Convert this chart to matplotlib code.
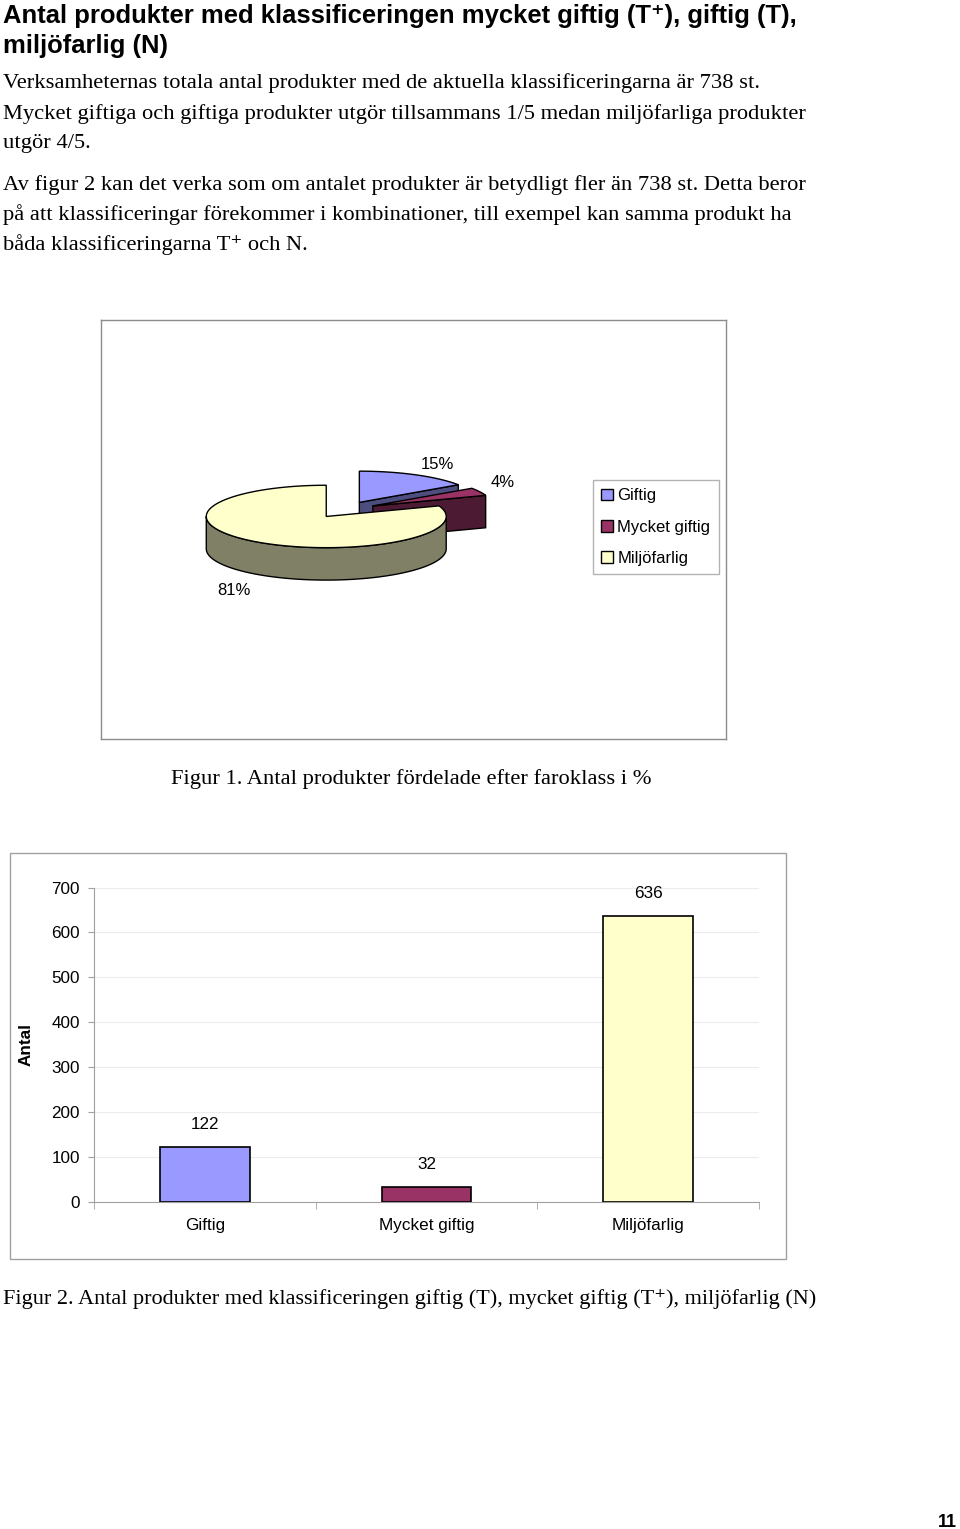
import matplotlib
matplotlib.use('Agg')
import matplotlib.pyplot as plt
import matplotlib.colors as mcolors
import numpy as np
from matplotlib.patches import Polygon, Patch, Rectangle

# data
categories = ['Giftig', 'Mycket giftig', 'Miljöfarlig']
counts = [122, 32, 636]
colors = ['#9999FF', '#993366', '#FFFFCC']
y_ticks = [0, 100, 200, 300, 400, 500, 600, 700]

title_lines = ['Antal produkter med klassificeringen mycket giftig (T\u207a), giftig (T),',
               'miljöfarlig (N)']
body_lines = ['Verksamheternas totala antal produkter med de aktuella klassificeringarna är 738 st.',
              'Mycket giftiga och giftiga produkter utgör tillsammans 1/5 medan miljöfarliga produkter',
              'utgör 4/5.',
              'Av figur 2 kan det verka som om antalet produkter är betydligt fler än 738 st. Detta beror',
              'på att klassificeringar förekommer i kombinationer, till exempel kan samma produkt ha',
              'båda klassificeringarna T\u207a och N.']
body_baselines = [88, 119, 148, 190, 220, 250]
caption1 = 'Figur 1. Antal produkter fördelade efter faroklass i %'
caption2 = 'Figur 2. Antal produkter med klassificeringen giftig (T), mycket giftig (T\u207a), miljöfarlig (N)'
page_no = '11'

W, H = 960, 1529
SANS = ['Liberation Sans', 'DejaVu Sans']
SERIF = ['Liberation Serif', 'DejaVu Serif']
plt.rcParams['font.family'] = SANS

fig = plt.figure(figsize=(W / 100, H / 100), dpi=100)
renderer = fig.canvas.get_renderer()


def fy(py):
    return 1 - py / H


# title: fit first line to the page width used in the original
titles = [fig.text(3 / W, fy(23 + 29.5 * i), line, family=SANS, fontsize=18,
                   fontweight='bold', va='baseline', ha='left')
          for i, line in enumerate(title_lines)]
tw = titles[0].get_window_extent(renderer).width
for t in titles:
    t.set_fontsize(18 * 792 / tw)

for line, b in zip(body_lines, body_baselines):
    fig.text(3 / W, fy(b), line, family=SERIF, fontsize=16.2, va='baseline', ha='left')

fig.text(171 / W, fy(784), caption1, family=SERIF, fontsize=16.2, va='baseline')
fig.text(3 / W, fy(1304), caption2, family=SERIF, fontsize=16.0, va='baseline')
fig.text(957 / W, fy(1527), page_no, fontsize=13, fontweight='bold', ha='right', va='baseline')

# ---- figure 1: 3D pie ----
ax = fig.add_axes([101 / W, fy(739), 625 / W, 419 / H])
ax.set_xlim(-2.03, 3.18)
ax.set_ylim(-1.91, 1.58)
ax.set_xticks([])
ax.set_yticks([])
for s in ax.spines.values():
    s.set_color('#8c8c8c')
    s.set_linewidth(1)

tilt, depth, explode = 0.26, 0.27, 0.265
shares = np.array(counts) / sum(counts)
edges = np.concatenate([[0], np.cumsum(shares)]) * 360


def darker(c, f=0.5):
    r, g, b = mcolors.to_rgb(c)
    return (r * f, g * f, b * f)


def rim(cx, cy, th):
    t = np.radians(th)
    return cx + np.sin(t), cy + tilt * np.cos(t)


slices = []
for i in range(len(counts)):
    a0, a1 = edges[i], edges[i + 1]
    mid = np.radians((a0 + a1) / 2)
    cx, cy = explode * np.sin(mid), explode * tilt * np.cos(mid)
    slices.append((cy, i, a0, a1, cx, mid))

# back to front
for cy, i, a0, a1, cx, mid in sorted(slices, reverse=True):
    top, side = colors[i], darker(colors[i])
    for th, vis in ((a0, np.sin(np.radians(a0)) < -1e-6), (a1, np.sin(np.radians(a1)) > 1e-6)):
        if vis:
            px, py = rim(cx, cy, th)
            ax.add_patch(Polygon([(cx, cy), (px, py), (px, py - depth), (cx, cy - depth)],
                                 closed=True, fc=side, ec='black', lw=1))
    lo, hi = max(a0, 90), min(a1, 270)
    if hi > lo:
        th = np.linspace(lo, hi, 120)
        xs, ys = rim(cx, cy, th)
        verts = list(zip(xs, ys)) + list(zip(xs[::-1], ys[::-1] - depth))
        ax.add_patch(Polygon(verts, closed=True, fc=side, ec='black', lw=1))
    th = np.linspace(a0, a1, 240)
    xs, ys = rim(cx, cy, th)
    ax.add_patch(Polygon([(cx, cy)] + list(zip(xs, ys)), closed=True, fc=top, ec='black', lw=1))

    lx, ly = cx + 1.1 * np.sin(mid), cy + 1.1 * tilt * np.cos(mid)
    if np.cos(mid) > 0:
        va = 'bottom'
        ly += 0.0
    else:
        va = 'top'
        ly -= depth + 0.05
    ax.text(lx, ly, '%.0f%%' % (shares[i] * 100), ha='left' if np.sin(mid) > 0 else 'right',
            va=va, fontsize=12)

handles = [Patch(fc=c, ec='black', lw=1) for c in colors]
leg = ax.legend(handles, categories, loc='upper left', bbox_to_anchor=(593 / W, fy(480)),
                bbox_transform=fig.transFigure, fontsize=12, frameon=True, fancybox=False,
                handlelength=0.7, handleheight=0.7, handletextpad=0.25, labelspacing=0.98,
                borderpad=0.5, borderaxespad=0)
leg.get_frame().set_edgecolor('#a0a0a0')
leg.get_frame().set_linewidth(1)

# ---- figure 2: bars ----
fig.patches.append(Rectangle((10 / W, fy(1259)), 776 / W, 406 / H, transform=fig.transFigure,
                             fill=False, ec='#a0a0a0', lw=1))
bx = fig.add_axes([94 / W, fy(1201.5), 665 / W, 314 / H])
x = np.arange(len(categories))
bx.bar(x, counts, width=0.405, color=colors, edgecolor='black', linewidth=1.2, zorder=3)
for xi, v in zip(x, counts):
    bx.annotate(str(v), (xi, v), xytext=(0, 16), textcoords='offset points',
                ha='center', va='center', fontsize=12.3)
bx.set_xlim(-0.5, len(categories) - 0.5)
bx.set_ylim(0, 700)
bx.set_yticks(y_ticks)
bx.set_xticks(x, categories)
bx.set_xticks(np.arange(len(categories) + 1) - 0.5, minor=True)
bx.tick_params(axis='x', which='major', length=0, pad=12, labelsize=12.3)
bx.tick_params(axis='x', which='minor', length=5, color='#a0a0a0')
bx.tick_params(axis='y', length=4, color='#a0a0a0', pad=6, labelsize=12.3)
bx.grid(axis='y', color='#ececec', lw=0.8, zorder=0)
bx.set_axisbelow(True)
for k in ('top', 'right'):
    bx.spines[k].set_visible(False)
for k in ('left', 'bottom'):
    bx.spines[k].set_color('#a0a0a0')
bx.set_ylabel('Antal', fontsize=12.3, fontweight='bold')
bx.yaxis.set_label_coords(-0.091, 0.5)

fig.savefig('out.png', dpi=100)
